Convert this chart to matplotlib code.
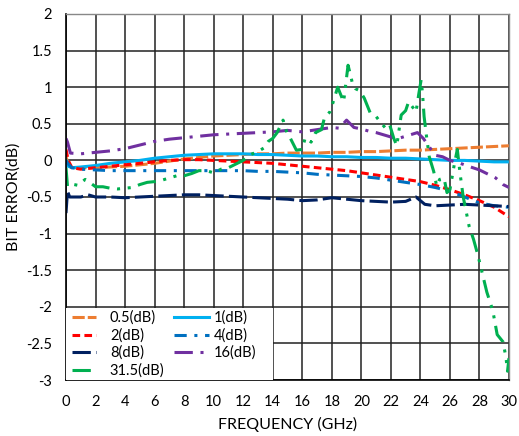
import matplotlib
matplotlib.use("Agg")
import matplotlib.pyplot as plt
from matplotlib.patches import Rectangle

plt.rcParams['font.family'] = ['Lato', 'DejaVu Sans']

# frequency grid shared by the smoother attenuation states (GHz)
freq = [0, 0.15, 0.4, 1, 2, 3, 4, 5, 6, 7, 8, 9, 10, 11, 12, 13, 14, 15,
        16, 17, 18, 19, 20, 21, 22, 23, 24, 25, 26, 27, 28, 29, 30]

err_0p5 = [0.05, -0.05, -0.1, -0.1, -0.1, -0.09, -0.08, -0.06, -0.04, -0.01, 0.02,
           0.04, 0.06, 0.07, 0.08, 0.09, 0.09, 0.1, 0.1, 0.1, 0.11, 0.11, 0.12,
           0.12, 0.13, 0.14, 0.14, 0.15, 0.16, 0.17, 0.18, 0.19, 0.2]
err_1 = [0.0, -0.08, -0.1, -0.09, -0.07, -0.04, -0.02, 0.0, 0.03, 0.05, 0.07,
         0.08, 0.09, 0.09, 0.09, 0.08, 0.08, 0.07, 0.06, 0.06, 0.05, 0.05, 0.04,
         0.04, 0.03, 0.03, 0.02, 0.01, 0.0, 0.0, -0.01, -0.02, -0.02]
err_2 = [0.15, 0.0, -0.1, -0.12, -0.1, -0.08, -0.06, -0.04, -0.02, 0.0, 0.01,
         0.01, 0.0, -0.01, -0.02, -0.03, -0.04, -0.06, -0.08, -0.1, -0.12, -0.14,
         -0.17, -0.2, -0.23, -0.26, -0.29, -0.34, -0.4, -0.47, -0.55, -0.64, -0.77]
err_4 = [0.0, -0.05, -0.1, -0.12, -0.13, -0.14, -0.14, -0.14, -0.14, -0.14, -0.14,
         -0.14, -0.14, -0.14, -0.14, -0.15, -0.15, -0.16, -0.17, -0.19, -0.2, -0.21,
         -0.22, -0.24, -0.27, -0.3, -0.33, -0.37, -0.42, -0.5, -0.58, -0.62, -0.64]

freq_8 = [0, 0.1, 0.25, 1, 1.5, 2, 3, 4, 5, 6, 7, 8, 9, 10, 11, 12, 13, 14, 15,
          16, 17, 18, 19, 20, 21, 22, 23, 23.7, 24.3, 25, 26, 27, 28, 29, 30]
err_8 = [-0.72, -0.42, -0.5, -0.5, -0.47, -0.5, -0.5, -0.51, -0.5, -0.49, -0.48,
         -0.47, -0.47, -0.48, -0.49, -0.5, -0.51, -0.52, -0.53, -0.55, -0.54, -0.51,
         -0.53, -0.55, -0.56, -0.57, -0.56, -0.5, -0.6, -0.62, -0.61, -0.6, -0.61,
         -0.62, -0.63]

freq_16 = [0, 0.1, 0.3, 1, 2, 3, 4, 5, 6, 7, 8, 9, 10, 11, 12, 13, 14, 15, 16,
           17, 18, 18.5, 19, 19.5, 20, 20.5, 21, 22, 22.5, 23, 23.8, 24.2, 25,
           25.5, 26, 26.7, 27.4, 28, 28.7, 29.1, 29.6, 30]
err_16 = [0.3, 0.25, 0.1, 0.09, 0.11, 0.13, 0.16, 0.21, 0.26, 0.29, 0.31, 0.33,
          0.35, 0.36, 0.37, 0.38, 0.39, 0.41, 0.39, 0.42, 0.45, 0.44, 0.55, 0.45,
          0.43, 0.4, 0.38, 0.32, 0.3, 0.33, 0.38, 0.3, 0.07, 0.05, 0.0, -0.04,
          -0.09, -0.13, -0.2, -0.24, -0.33, -0.37]

freq_31p5 = [0.0, 0.1, 0.3, 0.8, 1.3, 1.6, 2.0, 2.5, 3.0, 3.5, 4.0, 4.5, 5.0, 5.5,
             6.0, 6.5, 7.0, 7.5, 8.0, 8.5, 9.0, 9.5, 10.0, 10.5, 11.0, 11.5, 12.0,
             12.5, 13.0, 13.4, 13.7, 14.0, 14.3, 14.7, 15.0, 15.2, 15.6, 16.0, 16.2,
             16.6, 16.9, 17.3, 17.5, 17.9, 18.2, 18.4, 18.6, 18.8, 19.1, 19.2, 19.4,
             19.6, 19.9, 20.2, 20.6, 21.0, 21.3, 21.6, 21.9, 22.2, 22.4, 22.7, 23.0,
             23.2, 23.5, 23.7, 23.9, 24.05, 24.15, 24.25, 24.4, 24.6, 24.9, 25.1,
             25.3, 25.6, 25.8, 26.0, 26.3, 26.5, 26.7, 26.9, 27.1, 27.3, 27.6, 27.9,
             28.2, 28.5, 28.9, 29.2, 29.6, 29.8, 29.9, 30.0]
err_31p5 = [-0.1, -0.35, -0.32, -0.34, -0.26, -0.3, -0.36, -0.36, -0.38, -0.39,
            -0.38, -0.37, -0.33, -0.3, -0.29, -0.27, -0.24, -0.21, -0.21, -0.18,
            -0.14, -0.14, -0.17, -0.12, -0.1, -0.05, 0.0, 0.08, 0.12, 0.17, 0.26,
            0.3, 0.38, 0.55, 0.35, 0.3, 0.14, 0.15, 0.31, 0.25, 0.38, 0.42, 0.58,
            0.67, 0.87, 1.0, 0.9, 0.8, 1.3, 1.22, 1.05, 0.98, 0.95, 0.85, 0.65, 0.6,
            0.52, 0.45, 0.5, 0.3, 0.2, 0.62, 0.68, 0.8, 0.72, 0.66, 0.92, 1.1, 0.9,
            0.6, 0.35, 0.05, -0.15, -0.35, -0.26, -0.24, -0.44, -0.4, -0.05, 0.15,
            -0.2, -0.5, -0.7, -0.9, -1.08, -1.3, -1.55, -1.8, -2.05, -2.38, -2.48,
            -2.7, -2.88, -2.7]

series = [
    (freq, err_0p5, '0.5(dB)', '#ED7D31', (4, 1)),
    (freq, err_1, '1(dB)', '#00B0F0', None),
    (freq, err_2, '2(dB)', '#FF0000', (2.5, 1.4)),
    (freq, err_4, '4(dB)', '#0070C0', (4, 2.5, 1, 2.5)),
    (freq_8, err_8, '8(dB)', '#002060', (6, 1.7)),
    (freq_16, err_16, '16(dB)', '#7030A0', (6, 2.5, 1, 2.5)),
    (freq_31p5, err_31p5, '31.5(dB)', '#00B050', (6, 2.5, 1, 2.5, 1, 2.5)),
]

W, H = 519, 436
fig = plt.figure(figsize=(W / 100, H / 100), dpi=100)
ax = fig.add_axes([66 / W, 1 - 380 / H, 443 / W, 366 / H])

lines = []
for x, y, name, color, dash in series:
    line, = ax.plot(x, y, color=color, lw=2.2, label=name)
    if dash is not None:
        line.set_dashes(dash)
    lines.append(line)

ax.set_xlim(0, 30)
ax.set_ylim(-3, 2)
ax.set_xticks(range(0, 31, 2))
ax.set_yticks([2, 1.5, 1, 0.5, 0, -0.5, -1, -1.5, -2, -2.5, -3])
ax.set_yticklabels(['2', '1.5', '1', '0.5', '0', '-0.5', '-1', '-1.5', '-2', '-2.5', '-3'])
ax.grid(True, color='#222222', lw=1.1)
ax.set_axisbelow(True)
ax.tick_params(length=0, labelsize=10.5, colors='black')
ax.tick_params(axis='x', pad=11)
ax.tick_params(axis='y', pad=10)
for side in ['left', 'bottom']:
    ax.spines[side].set_color('black')
    ax.spines[side].set_linewidth(1.2)
for side in ['top', 'right']:
    ax.spines[side].set_color('#888888')
    ax.spines[side].set_linewidth(1.0)

fig.text(287.5 / W, 1 - 424 / H, 'FREQUENCY (GHz)', fontsize=11.5,
         ha='center', va='center')
fig.text(14 / W, 1 - 197 / H, 'BIT ERROR(dB)', fontsize=11.5,
         ha='center', va='center', rotation=90)

# white block behind the legend hides the grid in the lower-left corner
ax.add_patch(Rectangle((0, 0), 0.467, 0.197, transform=ax.transAxes,
                       facecolor='white', edgecolor='none', zorder=4))

# legend: two columns (0.5, 2, 8, 31.5 | 1, 4, 16), one entry per slot so
# handles and labels line up on the left edge of each column
row_y = [318, 336, 353, 371]          # row centres, figure pixels from top
col_x = [72, 174]                     # handle starts, figure pixels
col_handle = [1.65, 2.4]
col_pad = [0.95, 0.3]
slots = [(0, 0), (1, 0), (0, 1), (1, 1), (0, 2), (1, 2), (0, 3)]
for i, (col, row) in enumerate(slots):
    leg = ax.legend([lines[i]], [series[i][2]], loc='center left',
                    bbox_to_anchor=((col_x[col] - 66) / 443, (380 - row_y[row]) / 366),
                    borderaxespad=0, borderpad=0, fontsize=10.5,
                    handlelength=col_handle[col], handletextpad=col_pad[col],
                    frameon=False)
    leg.set_zorder(5)
    ax.add_artist(leg)
ax.legend_ = None  # every entry is already an artist; avoid drawing the last twice

fig.savefig('out.png', dpi=100)
